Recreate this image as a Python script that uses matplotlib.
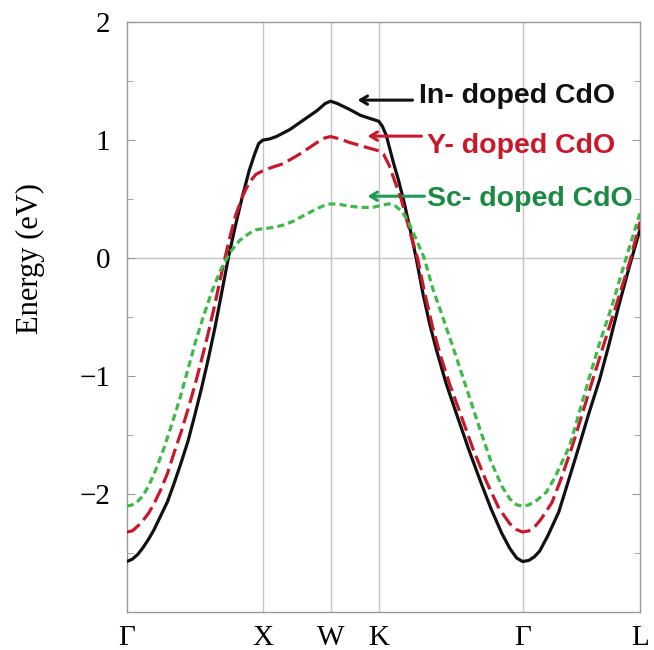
import numpy as np
import matplotlib.pyplot as plt

# high-symmetry points along the FCC path
kpt_labels = ['Γ', 'X', 'W', 'K', 'Γ', 'L']
kpt_pos = [0.0, 1.0, 1.5, 1.854, 2.914, 3.780]

# In-doped CdO
in_k = [0.00, 0.04, 0.08, 0.12, 0.16, 0.20, 0.25, 0.30, 0.35, 0.40, 0.45, 0.50, 0.55,
        0.60, 0.65, 0.70, 0.75, 0.80, 0.85, 0.90, 0.94, 0.97, 1.00,
        1.05, 1.10, 1.20, 1.30, 1.40, 1.46, 1.50,
        1.55, 1.64, 1.72, 1.80, 1.854,
        1.88, 1.91, 1.96, 2.00, 2.04, 2.09, 2.13, 2.18, 2.23, 2.28, 2.35, 2.43,
        2.52, 2.60, 2.68, 2.76, 2.82, 2.87, 2.914,
        2.96, 3.00, 3.04, 3.10, 3.18, 3.25, 3.33, 3.40, 3.48, 3.55, 3.62, 3.70, 3.78]
in_e = [-2.57, -2.55, -2.51, -2.45, -2.38, -2.30, -2.18, -2.06, -1.90, -1.73, -1.55, -1.33, -1.10,
        -0.85, -0.58, -0.28, 0.02, 0.28, 0.52, 0.74, 0.88, 0.97, 1.00,
        1.01, 1.03, 1.09, 1.17, 1.25, 1.31, 1.33,
        1.31, 1.26, 1.21, 1.18, 1.16,
        1.12, 1.04, 0.82, 0.66, 0.48, 0.22, 0.00, -0.30, -0.56, -0.78, -1.06, -1.33,
        -1.63, -1.88, -2.12, -2.33, -2.46, -2.54, -2.57,
        -2.56, -2.53, -2.48, -2.35, -2.15, -1.89, -1.59, -1.32, -1.03, -0.73, -0.41, -0.07, 0.25]

# Y-doped CdO
y_k = [0.00, 0.04, 0.08, 0.12, 0.16, 0.20, 0.25, 0.30, 0.35, 0.40, 0.45, 0.50, 0.55,
       0.60, 0.65, 0.70, 0.75, 0.80, 0.85, 0.90, 0.95, 1.00,
       1.07, 1.15, 1.27, 1.40, 1.46, 1.50,
       1.57, 1.64, 1.76, 1.854,
       1.89, 1.93, 1.97, 2.02, 2.08, 2.14, 2.19, 2.25, 2.31, 2.38, 2.45,
       2.55, 2.65, 2.74, 2.82, 2.87, 2.914,
       2.96, 3.00, 3.05, 3.13, 3.20, 3.28, 3.35, 3.43, 3.52, 3.60, 3.70, 3.78]
y_e = [-2.32, -2.31, -2.27, -2.22, -2.16, -2.08, -1.96, -1.82, -1.64, -1.47, -1.28, -1.08, -0.86,
       -0.63, -0.38, -0.11, 0.14, 0.36, 0.52, 0.64, 0.71, 0.74,
       0.77, 0.80, 0.88, 0.98, 1.02, 1.03,
       1.01, 0.98, 0.94, 0.91,
       0.88, 0.79, 0.66, 0.50, 0.24, 0.00, -0.28, -0.58, -0.83, -1.08, -1.30,
       -1.62, -1.90, -2.12, -2.25, -2.30, -2.32,
       -2.31, -2.28, -2.21, -2.07, -1.86, -1.59, -1.33, -1.03, -0.70, -0.41, -0.04, 0.31]

# Sc-doped CdO
sc_k = [0.00, 0.04, 0.08, 0.12, 0.16, 0.21, 0.27, 0.33, 0.39, 0.45, 0.51, 0.57,
        0.63, 0.69, 0.76, 0.83, 0.90, 0.95, 1.00,
        1.08, 1.15, 1.22, 1.30, 1.40, 1.46, 1.50,
        1.57, 1.64, 1.72, 1.81, 1.88, 1.93, 1.98, 2.03, 2.08, 2.13, 2.19,
        2.25, 2.32, 2.40, 2.50, 2.60, 2.68, 2.76, 2.82, 2.87, 2.914,
        2.96, 3.02, 3.09, 3.15, 3.26, 3.33, 3.40, 3.48, 3.57, 3.67, 3.78]
sc_e = [-2.10, -2.09, -2.06, -2.01, -1.93, -1.80, -1.62, -1.41, -1.19, -0.94, -0.69, -0.47,
        -0.27, -0.10, 0.05, 0.15, 0.21, 0.24, 0.25,
        0.26, 0.28, 0.31, 0.36, 0.42, 0.45, 0.46,
        0.455, 0.44, 0.43, 0.43, 0.45, 0.46, 0.44, 0.39, 0.29, 0.16, 0.00,
        -0.25, -0.48, -0.75, -1.10, -1.45, -1.72, -1.93, -2.04, -2.09, -2.10,
        -2.09, -2.05, -1.98, -1.86, -1.59, -1.31, -1.03, -0.72, -0.41, -0.02, 0.39]

black = '#111111'
red = '#c8192b'
green_line = '#40b84a'
green_txt = '#1d8a44'

fig = plt.figure(figsize=(6.54, 6.5), dpi=100)
ax = fig.add_axes([0.194, 0.058, 0.785, 0.908])

# guide lines
for xv in kpt_pos[1:-1]:
    ax.axvline(xv, color='#c4c4c4', lw=1.0, zorder=0)
ax.axhline(0, color='#c4c4c4', lw=1.0, zorder=0)

ax.plot(in_k, in_e, color=black, lw=2.3, solid_joinstyle='round', zorder=3)
ax.plot(y_k, y_e, color=red, lw=2.3, dashes=(4.8, 1.8), zorder=4)
ax.plot(sc_k, sc_e, color=green_line, lw=2.3, dashes=(2.2, 1.3), zorder=5)

ax.set_xlim(kpt_pos[0], kpt_pos[-1])
ax.set_ylim(-3, 2)
ax.set_xticks(kpt_pos)
ax.set_xticklabels(kpt_labels, family='Liberation Serif', fontsize=21)
ax.set_yticks([-2, -1, 0, 1, 2])
ax.set_yticks([-2.5, -1.5, -0.5, 0.5, 1.5], minor=True)
for lab in ax.get_yticklabels():
    lab.set_family('Liberation Serif')
    lab.set_fontsize(21)
ax.tick_params(axis='x', length=0, pad=9)
ax.tick_params(axis='y', which='major', direction='in', length=6, right=True,
               color='#999999', pad=12)
ax.tick_params(axis='y', which='minor', direction='in', length=4, right=True,
               color='#999999')
for sp in ax.spines.values():
    sp.set_color('#999999')
    sp.set_linewidth(1.0)

ax.set_ylabel('Energy (eV)', family='Liberation Serif', fontsize=22)
ax.yaxis.set_label_coords(-0.16, 0.60)

# labels with arrows
arrow_kw = dict(arrowstyle='->,head_length=0.5,head_width=0.3', lw=2.2,
                shrinkA=0, shrinkB=0)
ax.annotate('', xy=(1.699, 1.339), xytext=(2.103, 1.339),
            arrowprops=dict(color=black, **arrow_kw))
ax.annotate('', xy=(1.772, 1.034), xytext=(2.169, 1.034),
            arrowprops=dict(color=red, **arrow_kw))
ax.annotate('', xy=(1.772, 0.525), xytext=(2.191, 0.525),
            arrowprops=dict(color='#1f9a58', **arrow_kw))

txt_kw = dict(family='Liberation Sans', fontweight='bold', fontsize=20.5,
              ha='left', va='center')
ax.text(2.154, 1.373, 'In- doped CdO', color=black, **txt_kw)
ax.text(2.213, 0.949, 'Y- doped CdO', color=red, **txt_kw)
ax.text(2.213, 0.50, 'Sc- doped CdO', color=green_txt, **txt_kw)

fig.savefig('out.png', dpi=100)
